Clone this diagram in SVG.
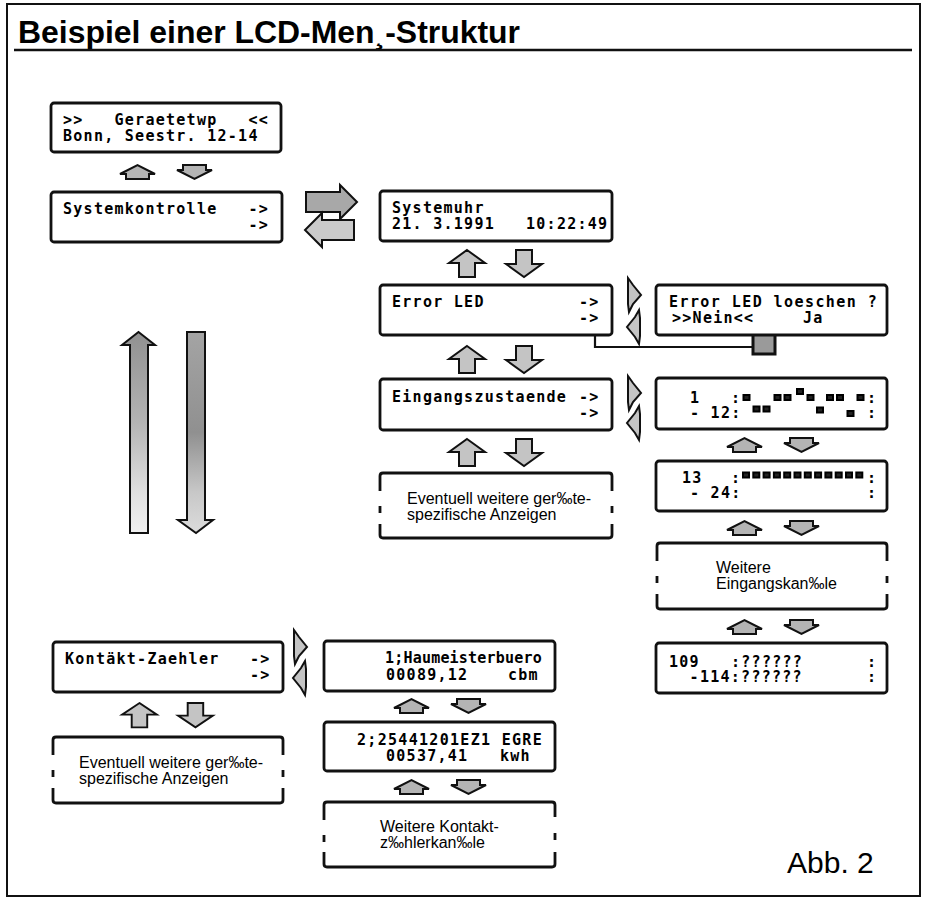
<svg xmlns="http://www.w3.org/2000/svg" xmlns:xlink="http://www.w3.org/1999/xlink" width="929" height="898" viewBox="0 0 929 898">
<style>
.lcd{fill:#fff;stroke:#111;stroke-width:2.8}
.dash{fill:none;stroke:#111;stroke-width:2.8;stroke-linecap:butt}
.t{font-family:"DejaVu Sans Mono","Liberation Mono",monospace;font-size:15px;font-weight:bold;letter-spacing:1.27px;fill:#000}
.h{font-family:"Liberation Sans",Arial,sans-serif;font-size:16px;fill:#000}
.sq{fill:#222;stroke:#000;stroke-width:2}
.ar{stroke:#111;stroke-width:2;stroke-linejoin:miter}
.frame{fill:none;stroke:#111;stroke-width:2}
</style>
<defs>
<linearGradient id="gUp" x1="0" y1="0" x2="0" y2="1">
<stop offset="0" stop-color="#909090"/><stop offset="0.45" stop-color="#b4b4b4"/><stop offset="0.8" stop-color="#e0e0e0"/><stop offset="1" stop-color="#f0f0f0"/>
</linearGradient>
<linearGradient id="gDn" x1="0" y1="0" x2="0" y2="1">
<stop offset="0" stop-color="#a4a4a4"/><stop offset="0.5" stop-color="#909090"/><stop offset="0.8" stop-color="#c8c8c8"/><stop offset="1" stop-color="#dcdcdc"/>
</linearGradient>
<polygon id="sup" class="ar" fill="#b4b4b4" points="0,9 17.5,0 35,9 29,9 29,14 6,14 6,9"/>
<polygon id="sdn" class="ar" fill="#b4b4b4" points="6,0 29,0 29,5 35,5 17.5,14 0,5 6,5"/>
<polygon id="hup" class="ar" fill="#c4c4c4" points="18,0 36,13 26,13 26,27 10,27 10,13 0,13"/>
<polygon id="hdn" class="ar" fill="#c4c4c4" points="10,0 26,0 26,14 36,14 18,27 0,14 10,14"/>
<polygon id="dr" class="ar" fill="#c4c4c4" points="1,0 6,7 14,17 6,26 2,34 1,26 1,8"/>
<polygon id="dl" class="ar" fill="#c4c4c4" points="12,0 13,8 13,26 12,34 8,27 0,17 8,7"/>
</defs>
<rect width="929" height="898" fill="#fff"/>
<g id="frame">
<path class="frame" d="M7,4 H920 V896 H7 Z"/>
<text x="18" y="43" font-family="'Liberation Sans',Arial,sans-serif" font-weight="bold" font-size="31" textLength="502" lengthAdjust="spacingAndGlyphs" fill="#000">Beispiel einer LCD-Men¸-Struktur</text>
<line x1="14" y1="50" x2="912" y2="50" stroke="#111" stroke-width="2.5"/>
<text x="787" y="873" font-family="'Liberation Sans',Arial,sans-serif" font-size="30" fill="#000">Abb. 2</text>
</g>
<g id="connectors">
<use xlink:href="#sup" x="120" y="165"/><use xlink:href="#sdn" x="177" y="165"/>
<polygon class="ar" fill="#a8a8a8" points="306,192 340,192 340,185 357,202 340,219 340,212 306,212"/>
<polygon class="ar" fill="#cacaca" points="354,220 322,220 322,213 305,230 322,247 322,240 354,240"/>
<use xlink:href="#hup" x="449" y="250"/><use xlink:href="#hdn" x="506" y="250"/>
<use xlink:href="#hup" x="449" y="346"/><use xlink:href="#hdn" x="506" y="346"/>
<use xlink:href="#hup" x="449" y="439"/><use xlink:href="#hdn" x="506" y="439"/>
<use xlink:href="#dr" x="627" y="278"/><use xlink:href="#dl" x="627" y="310"/>
<use xlink:href="#dr" x="627" y="376"/><use xlink:href="#dl" x="627" y="406"/>
<use xlink:href="#dr" x="293" y="630"/><use xlink:href="#dl" x="293" y="661"/>
<use xlink:href="#sup" x="727" y="438"/><use xlink:href="#sdn" x="784" y="438"/>
<use xlink:href="#sup" x="727" y="521"/><use xlink:href="#sdn" x="784" y="521"/>
<use xlink:href="#sup" x="727" y="620"/><use xlink:href="#sdn" x="784" y="620"/>
<use xlink:href="#sup" x="394" y="699"/><use xlink:href="#sdn" x="451" y="699"/>
<use xlink:href="#sup" x="394" y="780"/><use xlink:href="#sdn" x="451" y="780"/>
<use xlink:href="#hup" transform="translate(122,703) scale(0.97,0.9)"/><use xlink:href="#hdn" transform="translate(178,703) scale(0.97,0.9)"/>
<polygon class="ar" fill="url(#gUp)" points="138.5,332 155,345 148,345 148,533 130,533 130,345 122,345"/>
<polygon class="ar" fill="url(#gDn)" points="187,332 205,332 205,520 213,520 196,533 178,520 187,520"/>
<polyline points="595,335 595,347 753,347" fill="none" stroke="#111" stroke-width="2.2"/>
<rect x="753" y="333" width="22" height="21" fill="#9a9a9a" stroke="#111" stroke-width="3"/>
</g>
<g id="geraet">
<rect class="lcd" x="51" y="103" width="230" height="49" rx="3"/>
<text class="t"><tspan x="63" y="125">&gt;&gt;</tspan><tspan x="114.5" y="125">Geraetetwp</tspan><tspan x="248.4" y="125">&lt;&lt;</tspan><tspan x="63" y="141">Bonn, Seestr. 12-14</tspan></text>
</g>
<g id="systemkontrolle">
<rect class="lcd" x="51" y="192" width="231" height="50" rx="3"/>
<text class="t"><tspan x="63" y="214">Systemkontrolle</tspan><tspan x="248.4" y="214">-&gt;</tspan><tspan x="248.4" y="230">-&gt;</tspan></text>
</g>
<g id="systemuhr">
<rect class="lcd" x="380" y="191" width="232" height="50" rx="3"/>
<text class="t"><tspan x="392" y="212.5">Systemuhr</tspan><tspan x="392" y="229">21. 3.1991</tspan><tspan x="526" y="229">10:22:49</tspan></text>
</g>
<g id="errorled">
<rect class="lcd" x="380" y="285" width="232" height="50" rx="3"/>
<text class="t"><tspan x="392" y="307">Error LED</tspan><tspan x="579" y="307">-&gt;</tspan><tspan x="579" y="323">-&gt;</tspan></text>
</g>
<g id="errorled-loeschen">
<rect class="lcd" x="656" y="285" width="231" height="50" rx="3"/>
<text class="t"><tspan x="669" y="307" textLength="209">Error LED loeschen ?</tspan><tspan x="672" y="323">&gt;&gt;Nein&lt;&lt;</tspan><tspan x="803" y="323">Ja</tspan></text>
</g>
<g id="eingangszustaende">
<rect class="lcd" x="380" y="379" width="232" height="51" rx="3"/>
<text class="t"><tspan x="392" y="401.5">Eingangszustaende</tspan><tspan x="579" y="401.5">-&gt;</tspan><tspan x="579" y="418">-&gt;</tspan></text>
</g>
<g id="eventuell-mitte">
<path class="dash" d="M380,491 V476 Q380,473 383,473 H609 Q612,473 612,476 V491 M612,506 V513 M612,524 V535 Q612,538 609,538 H383 Q380,538 380,535 V524 M380,506 V513"/>
<text class="h"><tspan x="407" y="503.5">Eventuell weitere ger‰te-</tspan><tspan x="407" y="519.5">spezifische Anzeigen</tspan></text>
</g>
<g id="eingang-1-12">
<rect class="lcd" x="656" y="378" width="231" height="51" rx="3"/>
<text class="t"><tspan x="690" y="402.5">1</tspan><tspan x="731" y="402.5">:</tspan><tspan x="867" y="402.5">:</tspan><tspan x="690" y="418">- 12:</tspan><tspan x="867" y="418">:</tspan></text>
<rect class="sq" x="743.5" y="395" width="6" height="5"/>
<rect class="sq" x="753.5" y="406.5" width="6" height="5"/>
<rect class="sq" x="763.5" y="406.5" width="6" height="5"/>
<rect class="sq" x="774.5" y="395" width="6" height="5"/>
<rect class="sq" x="784.5" y="395" width="6" height="5"/>
<rect class="sq" x="797" y="389" width="6" height="5"/>
<rect class="sq" x="807.5" y="395" width="6" height="5"/>
<rect class="sq" x="817" y="407.5" width="6" height="5"/>
<rect class="sq" x="827" y="395" width="6" height="5"/>
<rect class="sq" x="837" y="395" width="6" height="5"/>
<rect class="sq" x="847.5" y="411" width="6" height="5"/>
<rect class="sq" x="857.5" y="395" width="6" height="5"/>
</g>
<g id="eingang-13-24">
<rect class="lcd" x="656" y="461" width="231" height="50" rx="3"/>
<text class="t"><tspan x="682" y="482.5">13</tspan><tspan x="731" y="482.5">:</tspan><tspan x="867" y="482.5">:</tspan><tspan x="690" y="498">- 24:</tspan><tspan x="867" y="498">:</tspan></text>
<rect class="sq" x="743" y="472.5" width="6" height="5"/>
<rect class="sq" x="753.3" y="472.5" width="6" height="5"/>
<rect class="sq" x="763.6" y="472.5" width="6" height="5"/>
<rect class="sq" x="773.9" y="472.5" width="6" height="5"/>
<rect class="sq" x="784.2" y="472.5" width="6" height="5"/>
<rect class="sq" x="794.5" y="472.5" width="6" height="5"/>
<rect class="sq" x="804.8" y="472.5" width="6" height="5"/>
<rect class="sq" x="815.1" y="472.5" width="6" height="5"/>
<rect class="sq" x="825.4" y="472.5" width="6" height="5"/>
<rect class="sq" x="835.7" y="472.5" width="6" height="5"/>
<rect class="sq" x="846" y="472.5" width="6" height="5"/>
<rect class="sq" x="856.3" y="472.5" width="6" height="5"/>
</g>
<g id="weitere-eingangskanaele">
<path class="dash" d="M657,561 V546 Q657,543 660,543 H884 Q887,543 887,546 V561 M887,576 V583 M887,594 V606 Q887,609 884,609 H660 Q657,609 657,606 V594 M657,576 V583"/>
<text class="h"><tspan x="716" y="573">Weitere</tspan><tspan x="716" y="589">Eingangskan‰le</tspan></text>
</g>
<g id="eingang-109-114">
<rect class="lcd" x="656" y="643" width="231" height="50" rx="3"/>
<text class="t"><tspan x="669" y="666.5">109</tspan><tspan x="731" y="666.5">:??????</tspan><tspan x="867" y="666.5">:</tspan><tspan x="689.6" y="682">-114:??????</tspan><tspan x="867" y="682">:</tspan></text>
</g>
<g id="kontakt-zaehler">
<rect class="lcd" x="53" y="642" width="230" height="50" rx="3"/>
<text class="t"><tspan x="65" y="664">Kontäkt-Zaehler</tspan><tspan x="250" y="664">-&gt;</tspan><tspan x="250" y="680">-&gt;</tspan></text>
</g>
<g id="eventuell-links">
<path class="dash" d="M53,755 V740 Q53,737 56,737 H280 Q283,737 283,740 V755 M283,770 V777 M283,788 V800 Q283,803 280,803 H56 Q53,803 53,800 V788 M53,770 V777"/>
<text class="h"><tspan x="79" y="767.5">Eventuell weitere ger‰te-</tspan><tspan x="79" y="783.5">spezifische Anzeigen</tspan></text>
</g>
<g id="zaehler-1">
<rect class="lcd" x="324" y="641" width="231" height="50" rx="3"/>
<text class="t"><tspan x="385" y="663" textLength="158">1;Haumeisterbuero</tspan><tspan x="386" y="680">00089,12</tspan><tspan x="508" y="680">cbm</tspan></text>
</g>
<g id="zaehler-2">
<rect class="lcd" x="324" y="722" width="231" height="49" rx="3"/>
<text class="t"><tspan x="357" y="745" textLength="186">2;25441201EZ1 EGRE</tspan><tspan x="386" y="761">00537,41</tspan><tspan x="500" y="761">kwh</tspan></text>
</g>
<g id="weitere-zaehlerkanaele">
<path class="dash" d="M324,820 V805 Q324,802 327,802 H552 Q555,802 555,805 V817 M555,833 V840 M555,852 V864 Q555,867 552,867 H327 Q324,867 324,864 V852 M324,835 V842"/>
<text class="h"><tspan x="380" y="831.5">Weitere Kontakt-</tspan><tspan x="380" y="847.5">z‰hlerkan‰le</tspan></text>
</g>
</svg>
